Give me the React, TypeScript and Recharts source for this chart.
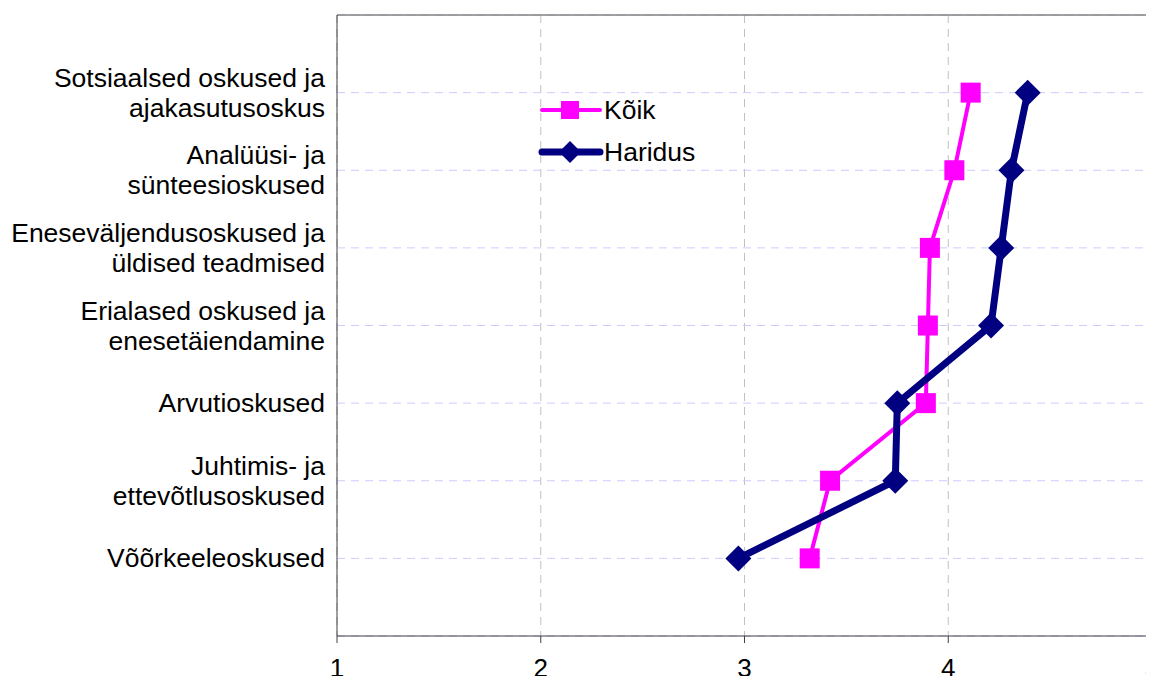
import React from 'react'
import { LineChart, Line, XAxis, YAxis, CartesianGrid, ReferenceLine } from 'recharts'

// Category labels, top to bottom; each one is split over two lines where the original wraps.
const categories: string[][] = [
  ['Sotsiaalsed oskused ja', 'ajakasutusoskus'],
  ['Analüüsi- ja', 'sünteesioskused'],
  ['Eneseväljendusoskused ja', 'üldised teadmised'],
  ['Erialased oskused ja', 'enesetäiendamine'],
  ['Arvutioskused'],
  ['Juhtimis- ja', 'ettevõtlusoskused'],
  ['Võõrkeeleoskused'],
]

const koik = [4.11, 4.03, 3.91, 3.9, 3.89, 3.42, 3.32]
const haridus = [4.39, 4.31, 4.26, 4.21, 3.75, 3.74, 2.97]

const xTicks = [1, 2, 3, 4, 5]
const yTicks = [1, 2, 3, 4, 5, 6, 7]

const MAGENTA = '#ff00ff'
const NAVY = '#000080'
const FONT = 'Liberation Sans, Arial, sans-serif'
const FS = 26.5

const data = categories.map((_, i) => ({
  pos: i + 1,
  koik: koik[i],
  haridus: haridus[i],
}))

const CategoryTick = (props: any) => {
  const { x, y, payload } = props
  const lines = categories[payload.value - 1] || []
  const startDy = lines.length > 1 ? -15 : 0
  return (
    <text x={x - 4} y={y} textAnchor="end" fontSize={FS} fontFamily={FONT} fill="#000" dominantBaseline="central">
      {lines.map((l, i) => (
        <tspan key={i} x={x - 4} dy={i === 0 ? startDy : 30}>
          {l}
        </tspan>
      ))}
    </text>
  )
}

const Square = (props: any) => {
  const { cx, cy } = props
  return <rect x={cx - 10} y={cy - 10} width={20} height={20} fill={MAGENTA} />
}

const Diamond = (props: any) => {
  const { cx, cy } = props
  const r = 13
  return <polygon points={`${cx},${cy - r} ${cx + r},${cy} ${cx},${cy + r} ${cx - r},${cy}`} fill={NAVY} />
}

// Legend drawn by hand in the spot the original puts it, inside the plot.
const LegendBox = () => (
  <svg width={220} height={90} style={{ position: 'absolute', left: 532, top: 85, overflow: 'visible' }}>
    <line x1={2} y1={17} x2={60} y2={17} stroke={MAGENTA} strokeWidth={4} strokeLinecap="round" />
    <rect x={21} y={8} width={18} height={18} fill={MAGENTA} />
    <text x={64} y={17} fontSize={FS} fontFamily={FONT} dominantBaseline="central">Kõik</text>
    <line x1={2} y1={59} x2={60} y2={59} stroke={NAVY} strokeWidth={7} strokeLinecap="round" />
    <polygon points="30,48 41,59 30,70 19,59" fill={NAVY} />
    <text x={64} y={59} fontSize={FS} fontFamily={FONT} dominantBaseline="central">Haridus</text>
  </svg>
)

export default function App() {
  // The chart is a bit wider than the page; the outer div cuts it at the window edge,
  // so the "5" label is half shown, as in the original. The negative bottom margin
  // keeps the page from growing past the window height.
  return (
    <div style={{ position: 'relative', width: 1146, height: 676, overflow: 'hidden', marginBottom: -8 }}>
      <LineChart
        width={1170}
        height={676}
        data={data}
        layout="vertical"
        margin={{ top: 7, right: 26, bottom: 0, left: 0 }}
      >
        <CartesianGrid horizontal={false} stroke="#c0c0c0" strokeDasharray="8 6" />
        <CartesianGrid vertical={false} stroke="#ccccff" strokeDasharray="8 6" />
        <XAxis
          type="number"
          dataKey="koik"
          domain={[1, 5]}
          ticks={xTicks}
          interval={0}
          tickSize={7}
          tickMargin={16}
          height={48}
          stroke="#404040"
          tick={{ fontSize: 26, fontFamily: FONT, fill: '#000' }}
          allowDataOverflow
        />
        <YAxis
          type="number"
          dataKey="pos"
          domain={[0, 8]}
          ticks={yTicks}
          width={329}
          tickLine={false}
          stroke="#404040"
          tick={<CategoryTick />}
          interval={0}
        />
        <ReferenceLine x={5} stroke="#808080" strokeWidth={1.5} />
        <ReferenceLine y={0} stroke="#808080" strokeWidth={1.5} />
        <Line
          dataKey="koik"
          name="Kõik"
          stroke={MAGENTA}
          strokeWidth={4}
          dot={<Square />}
          activeDot={false}
          isAnimationActive={false}
        />
        <Line
          dataKey="haridus"
          name="Haridus"
          stroke={NAVY}
          strokeWidth={7}
          dot={<Diamond />}
          activeDot={false}
          isAnimationActive={false}
        />
      </LineChart>
      <LegendBox />
    </div>
  )
}
